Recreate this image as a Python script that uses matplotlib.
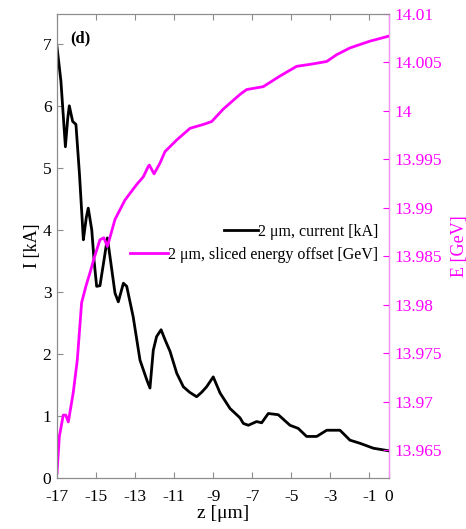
import numpy as np
import matplotlib
matplotlib.use('Agg')
import matplotlib.pyplot as plt

plt.rcParams['font.family'] = ['Liberation Serif', 'DejaVu Serif']

# current profile, 2 um slice [kA]
z_cur = [-17.0, -16.8, -16.57, -16.45, -16.37, -16.2, -16.03, -15.85, -15.68, -15.65,
         -15.5, -15.4, -15.22, -15.1, -14.97, -14.8, -14.6, -14.42, -14.3, -14.03,
         -13.86, -13.6, -13.43, -13.1, -12.75, -12.4, -12.24, -12.07, -11.9, -11.67,
         -11.47, -11.21, -10.87, -10.53, -10.2, -9.85, -9.6, -9.34, -9.0, -8.65,
         -8.14, -7.63, -7.46, -7.2, -6.78, -6.52, -6.18, -5.67, -5.07, -4.65,
         -4.22, -3.7, -3.19, -2.51, -2.0, -1.49, -0.8, -0.04]
current = [6.95, 6.4, 5.34, 5.8, 6.0, 5.75, 5.7, 4.9, 4.0, 3.84,
           4.2, 4.35, 4.0, 3.5, 3.09, 3.1, 3.5, 3.87, 3.6, 2.98,
           2.84, 3.14, 3.09, 2.6, 1.9, 1.58, 1.45, 2.06, 2.28, 2.39,
           2.23, 2.04, 1.69, 1.47, 1.38, 1.31, 1.38, 1.47, 1.63, 1.37,
           1.12, 0.97, 0.88, 0.85, 0.91, 0.89, 1.04, 1.02, 0.85, 0.80,
           0.67, 0.67, 0.77, 0.77, 0.61, 0.56, 0.48, 0.44]

# sliced energy offset [GeV]
z_en = [-17.0, -16.88, -16.68, -16.55, -16.42, -16.17, -15.96, -15.74, -15.52, -15.31,
        -15.1, -14.8, -14.6, -14.42, -14.03, -13.52, -12.92, -12.58, -12.32, -12.27,
        -12.03, -11.73, -11.47, -10.87, -10.19, -9.51, -9.08, -8.48, -8.14, -7.63,
        -7.29, -6.44, -5.58, -4.73, -4.05, -3.19, -2.68, -2.0, -0.97, -0.04]
energy = [13.9626, 13.9664, 13.9686, 13.9686, 13.9679, 13.9709, 13.9743, 13.9802, 13.9819, 13.9833,
          13.9848, 13.9867, 13.9869, 13.9860, 13.9888, 13.9908, 13.9924, 13.9932, 13.9943, 13.9944,
          13.9935, 13.9946, 13.9958, 13.9970, 13.9982, 13.9986, 13.9989, 14.0002, 14.0008, 14.0017,
          14.0022, 14.0025, 14.0036, 14.0046, 14.0048, 14.0051, 14.0058, 14.0065, 14.0072, 14.0077]

x_ticks = [-17, -15, -13, -11, -9, -7, -5, -3, -1, 0]
x_labels = ['-17', '-15', '-13', '-11', '-9', '-7', '-5', '-3', '-1', '0']
e_ticks = [13.965, 13.97, 13.975, 13.98, 13.985, 13.99, 13.995, 14.0, 14.005, 14.01]
e_labels = ['13.965', '13.97', '13.975', '13.98', '13.985', '13.99', '13.995', '14', '14.005', '14.01']

magenta = '#ff00ff'
gray = '#8c8c8c'

fig = plt.figure(figsize=(4.66, 5.29), dpi=100)
ax = fig.add_axes([57 / 466, 51 / 529, 332 / 466, 464 / 529])
ax2 = ax.twinx()

l1, = ax.plot(z_cur, current, color='black', lw=2, label='2 \u03bcm, current [kA]')
l2, = ax2.plot(z_en, energy, color=magenta, lw=2, label='2 \u03bcm, sliced energy offset [GeV]')

ax.set_xlim(-17, 0)
ax.set_ylim(0, 7.48)
ax2.set_ylim(13.96211, 14.01)

ax.set_xticks(x_ticks)
ax.set_xticklabels(x_labels)
ax.set_yticks(range(8))
ax2.set_yticks(e_ticks)
ax2.set_yticklabels(e_labels)

ax.tick_params(axis='both', direction='in', length=4, color=gray, labelsize=12.5,
               top=True, right=False, pad=4)
ax.tick_params(axis='x', pad=8)
ax2.tick_params(axis='y', direction='in', length=4, color=magenta, labelcolor=magenta,
                labelsize=12.5, pad=4)

for s in ['left', 'bottom', 'top']:
    ax.spines[s].set_color(gray)
    ax2.spines[s].set_color(gray)
ax2.spines['right'].set_color('#ff8cff')

ax.set_xlabel('z [\u03bcm]', fontsize=14, labelpad=0)
ax.set_ylabel('I [kA]', fontsize=13, labelpad=1)
ax2.set_ylabel('E [GeV]', fontsize=13, color=magenta, labelpad=6)

ax.text(0.04, 0.965, '(d)', transform=ax.transAxes, fontsize=12, fontweight='bold',
        va='top', ha='left')

leg1 = ax2.legend(handles=[l1], loc='center right', bbox_to_anchor=(0.967, 0.530),
                  frameon=False, fontsize=11.5, handlelength=2.1, handletextpad=0.0,
                  borderpad=0, borderaxespad=0)
ax2.add_artist(leg1)
ax2.legend(handles=[l2], loc='center right', bbox_to_anchor=(0.967, 0.481),
           frameon=False, fontsize=11.5, handlelength=2.4, handletextpad=0.0,
           borderpad=0, borderaxespad=0)

fig.savefig('out.png', dpi=100)
